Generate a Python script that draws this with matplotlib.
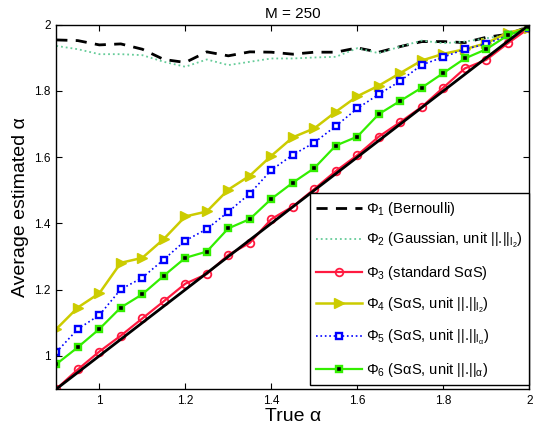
import numpy as np
import matplotlib
matplotlib.use("Agg")
import matplotlib.pyplot as plt

alpha_true = [0.90, 0.95, 1.00, 1.05, 1.10, 1.15, 1.20, 1.25, 1.30, 1.35, 1.40, 1.45,
              1.50, 1.55, 1.60, 1.65, 1.70, 1.75, 1.80, 1.85, 1.90, 1.95, 2.00]

phi1 = [1.954, 1.952, 1.939, 1.942, 1.926, 1.895, 1.886, 1.918, 1.906, 1.918, 1.917, 1.911,
        1.917, 1.917, 1.930, 1.917, 1.934, 1.949, 1.949, 1.946, 1.962, 1.971, 1.995]
phi2 = [1.936, 1.926, 1.911, 1.911, 1.908, 1.888, 1.873, 1.895, 1.878, 1.888, 1.898, 1.898,
        1.901, 1.903, 1.929, 1.914, 1.934, 1.952, 1.944, 1.949, 1.959, 1.969, 1.993]
phi3 = [0.900, 0.959, 1.013, 1.061, 1.113, 1.165, 1.218, 1.247, 1.305, 1.341, 1.413, 1.451,
        1.504, 1.558, 1.606, 1.662, 1.706, 1.752, 1.810, 1.868, 1.894, 1.944, 1.990]
phi4 = [1.081, 1.146, 1.189, 1.281, 1.296, 1.353, 1.421, 1.436, 1.502, 1.544, 1.604, 1.660,
        1.687, 1.737, 1.784, 1.816, 1.854, 1.892, 1.912, 1.926, 1.944, 1.976, 1.990]
phi5 = [1.011, 1.081, 1.123, 1.201, 1.236, 1.291, 1.348, 1.383, 1.435, 1.490, 1.561, 1.607,
        1.644, 1.694, 1.747, 1.790, 1.830, 1.879, 1.902, 1.926, 1.942, 1.968, 1.990]
phi6 = [0.975, 1.026, 1.081, 1.146, 1.186, 1.242, 1.296, 1.315, 1.385, 1.413, 1.474, 1.523,
        1.567, 1.635, 1.662, 1.730, 1.770, 1.810, 1.854, 1.898, 1.926, 1.968, 1.992]

diag_x = [0.9, 2.0]

labels = [r"$\Phi_1$ (Bernoulli)",
          r"$\Phi_2$ (Gaussian, unit ||.||$_{l_2}$)",
          r"$\Phi_3$ (standard S$\alpha$S)",
          r"$\Phi_4$ (S$\alpha$S, unit ||.||$_{l_2}$)",
          r"$\Phi_5$ (S$\alpha$S, unit ||.||$_{l_\alpha}$)",
          r"$\Phi_6$ (S$\alpha$S, unit ||.||$_{\alpha}$)"]

xticks = [1, 1.2, 1.4, 1.6, 1.8, 2]
yticks = [1, 1.2, 1.4, 1.6, 1.8, 2]

plt.rcParams['font.family'] = ['Liberation Sans', 'DejaVu Sans']
plt.rcParams['mathtext.fontset'] = 'custom'
plt.rcParams['mathtext.rm'] = 'Liberation Sans'
plt.rcParams['mathtext.it'] = 'Liberation Sans'
plt.rcParams['mathtext.bf'] = 'Liberation Sans:bold'
plt.rcParams['mathtext.sf'] = 'DejaVu Sans'

fig = plt.figure(figsize=(5.33, 4.32), dpi=100)
ax = fig.add_axes([56.3 / 533, (432 - 389) / 432, (529.3 - 56.3) / 533, (389 - 24.7) / 432])

red = '#ff1a40'
yellow = '#cccc00'
blue = '#0000ff'
green = '#33ee00'
teal = '#66cc99'

ax.plot(alpha_true, phi1, '--', color='k', lw=2, label=labels[0], dashes=(4, 3))
ax.plot(alpha_true, phi2, ':', color=teal, lw=1.3, label=labels[1])
ax.plot(alpha_true, phi3, '-', color=red, lw=1.6, marker='o', ms=5.5,
        mfc='none', mec=red, mew=1.3, label=labels[2])
ax.plot(alpha_true, phi4, '-', color=yellow, lw=1.8, marker='>', ms=7.5,
        mfc=yellow, mec=yellow, label=labels[3])
ax.plot(alpha_true, phi5, ':', color=blue, lw=1.2, marker='s', ms=4.5,
        mfc='white', mec=blue, mew=1.7, label=labels[4])
ax.plot(alpha_true, phi6, '-', color=green, lw=1.6, marker='s', ms=4.5,
        mfc='k', mec=green, mew=1.7, label=labels[5])
ax.plot(diag_x, diag_x, '-', color='k', lw=2, label='_nolegend_')

ax.set_xlim(0.9, 2.0)
ax.set_ylim(0.9, 2.0)
ax.set_xticks(xticks)
ax.set_yticks(yticks)
ax.set_xticklabels(['1', '1.2', '1.4', '1.6', '1.8', '2'])
ax.set_yticklabels(['1', '1.2', '1.4', '1.6', '1.8', '2'])
ax.tick_params(direction='in', top=True, right=True, labelsize=8.5, length=4, width=0.8, pad=4)
for s in ax.spines.values():
    s.set_linewidth(1.0)

ax.set_xlabel('True α', fontsize=14, labelpad=1)
ax.set_ylabel('Average estimated α', fontsize=14, labelpad=4)
ax.set_title('M = 250', fontsize=11, pad=5)

leg = ax.legend(loc='lower right', bbox_to_anchor=(1.0, 0.01), fontsize=10.5,
                frameon=True, fancybox=False, edgecolor='k', framealpha=1,
                borderaxespad=0, handlelength=3.1, numpoints=1, labelspacing=0.93,
                handletextpad=0.3, borderpad=0.45)
leg.get_frame().set_linewidth(1.0)

fig.savefig('out.png', dpi=100)
